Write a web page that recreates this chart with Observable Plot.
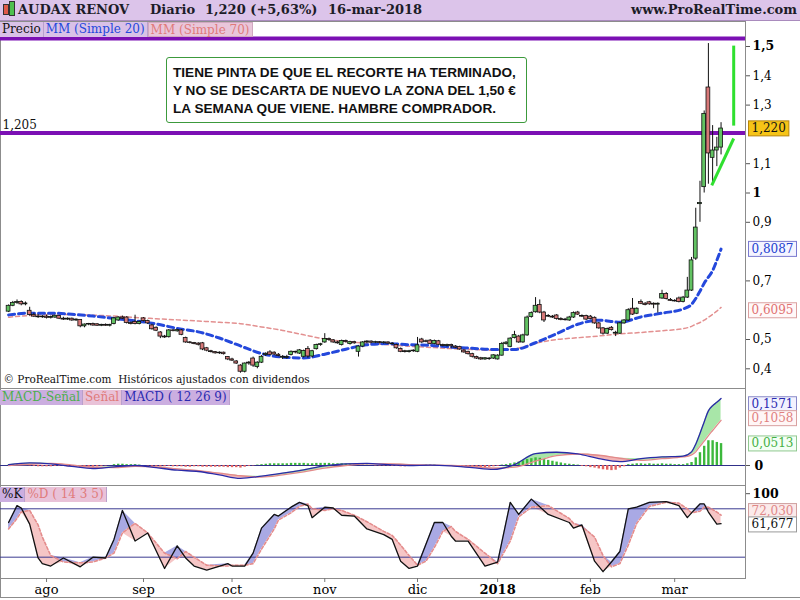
<!DOCTYPE html>
<html><head><meta charset="utf-8">
<script src="https://cdn.jsdelivr.net/npm/d3@7"></script>
<script src="https://cdn.jsdelivr.net/npm/@observablehq/plot@0.6"></script>
<style>
html,body{margin:0;padding:0;background:#fff;}
#chart{position:relative;width:800px;height:600px;overflow:hidden;background:#fff;font-family:"DejaVu Serif",serif;}
#chart .abs{position:absolute;}
#header{left:0;top:0;width:800px;height:20px;background:#dcc4ea;border-bottom:1px solid #a98bbd;color:#1c1c28;font-weight:bold;font-size:13px;}
#header span{position:absolute;top:2px;white-space:nowrap;line-height:16px;}
.legbar{display:flex;font-size:12px;line-height:15px;height:15px;white-space:nowrap;}
.legbar span{padding:0 2px;border-right:1px solid #b9a0cc;}
#note{left:166px;top:57px;width:361px;height:66px;border:1px solid #3c9a3c;border-radius:3px;background:#fff;font-family:"Liberation Sans",Arial,sans-serif;font-weight:bold;font-size:13.6px;line-height:18px;color:#111;padding:6px 0 0 6px;box-sizing:border-box;white-space:nowrap;}
</style></head>
<body>
<div id="chart">
  <div id="header" class="abs">
    <span style="left:3px;top:4px;width:4px;height:9px;background:#e05a4a;border:1px solid #333;"></span>
    <span style="left:9px;top:1px;width:4px;height:13px;background:#4ec04e;border:1px solid #333;"></span>
    <span style="left:18px">AUDAX RENOV</span>
    <span style="left:150px">Diario</span>
    <span id="hdrPrice" style="left:205px"></span>
    <span id="hdrDate" style="left:328px"></span>
    <span style="right:3px">www.ProRealTime.com</span>
  </div>
  <div id="pricePlot" class="abs" style="left:0;top:21px"></div>
  <div class="abs legbar" style="left:0;top:22px">
    <span style="background:#d9c1e7;color:#111">Precio</span>
    <span style="background:#d9c1e7;color:#2448dc">MM (Simple 20)</span>
    <span style="background:#e9c6da;color:#e07a7a;border:1px solid #d0a8c0">MM (Simple 70)</span>
  </div>
  <div id="note" class="abs">TIENE PINTA DE QUE EL RECORTE HA TERMINADO,<br>Y NO SE DESCARTA DE NUEVO LA ZONA DEL 1,50 €<br>LA SEMANA QUE VIENE. HAMBRE COMPRADOR.</div>
  <div id="macdPlot" class="abs" style="left:0;top:388px"></div>
  <div class="abs legbar" style="left:0;top:390px">
    <span style="background:#cbaee0;color:#4cae4c">MACD-Señal</span>
    <span style="background:#e9c2d8;color:#e07a7a">Señal</span>
    <span style="background:#cbaee0;color:#2a2ab0">MACD ( 12 26 9)</span>
  </div>
  <div id="stochPlot" class="abs" style="left:0;top:485px"></div>
  <div class="abs legbar" style="left:0;top:487px">
    <span style="background:#cbaee0;color:#111">%K</span>
    <span style="background:#e9c2d8;color:#e07a7a">%D ( 14 3 5)</span>
  </div>
  <div class="abs" style="left:0;top:578px;width:800px;height:20px;border-left:1px solid #8c8c8c;border-bottom:1px solid #8c8c8c;box-sizing:border-box;pointer-events:none"></div>
</div>
<script>
// ---------------- DATA ----------------
const monthNames = ["ene","feb","mar","abr","may","jun","jul","ago","sep","oct","nov","dic"];
const monthLabels = ["ago","sep","oct","nov","dic","2018","feb","mar"];
const holidays = ["2017-12-25","2017-12-26","2018-01-01"];

const open = [.595,.615,.625,.628,.620,.598,.584,.578,.576,.578,.574,.575,.580,.571,.568,.571,.565,.567,.545,.551,
.553,.552,.547,.550,.547,.553,.565,.575,.575,.556,.560,.553,.572,.563,.548,.540,.524,.510,.508,.531,
.528,.531,.505,.490,.488,.486,.487,.470,.460,.457,.453,.455,.440,.432,.425,.411,.390,.418,.435,.406,
.421,.447,.456,.455,.448,.438,.437,.447,.456,.452,.441,.468,.442,.467,.481,.490,.502,.497,.490,.481,
.495,.485,.491,.458,.476,.490,.493,.489,.491,.488,.490,.486,.481,.468,.460,.457,.460,.458,.500,.494,
.496,.485,.494,.481,.478,.481,.476,.474,.462,.458,.450,.440,.436,.432,.435,.435,.432,.445,.485,.475,
.505,.510,.490,.514,.577,.593,.618,.592,.580,.578,.582,.570,.568,.565,.575,.592,.580,.580,.578,.574,
.555,.538,.520,.540,.520,.520,.555,.565,.605,.588,.628,.622,.627,.622,.619,.640,.655,.635,.632,.640,
.628,.643,.667,.776,.962,1.020,1.360,1.120,1.145,1.155];
const high = [.618,.630,.635,.632,.628,.610,.590,.585,.582,.583,.580,.583,.582,.576,.574,.573,.570,.568,.553,.555,
.556,.554,.552,.553,.552,.575,.578,.580,.578,.560,.583,.563,.575,.566,.552,.543,.527,.514,.534,.534,
.535,.534,.508,.493,.490,.489,.490,.473,.463,.459,.458,.457,.442,.436,.428,.414,.420,.425,.440,.424,
.445,.455,.462,.458,.452,.445,.446,.461,.460,.466,.464,.476,.463,.484,.487,.520,.505,.500,.494,.498,
.498,.494,.494,.478,.493,.496,.495,.494,.493,.493,.492,.489,.484,.471,.463,.463,.465,.507,.504,.498,
.500,.498,.497,.484,.484,.484,.479,.477,.465,.460,.453,.443,.439,.438,.438,.448,.448,.490,.493,.506,
.528,.514,.518,.580,.594,.643,.635,.596,.585,.582,.585,.574,.572,.579,.594,.596,.584,.583,.582,.577,
.558,.541,.539,.544,.528,.558,.568,.605,.640,.608,.635,.626,.630,.625,.625,.668,.660,.640,.636,.645,
.647,.712,.780,.948,1.040,1.280,1.510,1.230,1.190,1.240];
const low = [.592,.612,.620,.615,.615,.580,.575,.572,.572,.570,.570,.572,.568,.565,.565,.562,.562,.540,.540,.547,
.545,.545,.544,.545,.543,.550,.562,.568,.553,.550,.550,.550,.560,.552,.532,.527,.503,.504,.505,.526,
.525,.513,.487,.485,.482,.478,.462,.458,.454,.450,.449,.447,.428,.425,.415,.385,.386,.412,.405,.400,
.418,.442,.445,.445,.441,.432,.433,.444,.451,.449,.437,.436,.438,.464,.477,.487,.494,.487,.484,.478,
.488,.481,.484,.440,.472,.486,.486,.486,.485,.484,.484,.481,.467,.455,.454,.454,.456,.455,.487,.489,
.482,.482,.479,.475,.474,.470,.469,.463,.453,.447,.437,.432,.429,.429,.429,.432,.430,.443,.481,.472,
.502,.487,.487,.511,.573,.590,.588,.558,.575,.572,.566,.564,.563,.562,.572,.582,.575,.565,.567,.552,
.535,.515,.517,.529,.510,.517,.552,.562,.582,.585,.619,.615,.617,.605,.590,.637,.635,.630,.628,.625,
.625,.640,.664,.770,.900,1.000,1.030,1.030,1.090,1.130];
const close = [.615,.625,.628,.620,.623,.584,.578,.576,.578,.574,.577,.581,.571,.568,.571,.565,.568,.545,.551,.553,
.548,.547,.550,.547,.550,.572,.575,.571,.556,.553,.553,.560,.563,.555,.535,.530,.510,.507,.531,.529,
.532,.516,.490,.488,.485,.482,.466,.462,.457,.453,.455,.450,.432,.428,.418,.390,.418,.421,.411,.421,
.441,.451,.448,.449,.444,.441,.440,.458,.458,.463,.461,.442,.460,.481,.484,.502,.498,.490,.487,.495,
.492,.491,.487,.476,.490,.493,.489,.491,.488,.490,.486,.484,.470,.458,.457,.460,.462,.480,.490,.492,
.485,.495,.482,.478,.481,.477,.472,.466,.456,.450,.441,.435,.432,.436,.433,.446,.445,.485,.489,.503,
.515,.490,.514,.575,.590,.615,.592,.565,.578,.575,.570,.567,.566,.575,.590,.585,.578,.568,.570,.555,
.538,.520,.536,.532,.523,.555,.565,.600,.585,.605,.622,.618,.620,.619,.622,.655,.638,.632,.630,.628,
.643,.667,.770,.882,.966,1.270,1.135,1.145,1.155,1.220];

// moving averages, MACD and signal read at these trading-day indices
const sampleIdx = [0,5,10,15,20,25,30,35,40,45,50,55,60,65,70,75,80,85,90,95,100,105,110,115,120,125,130,135,140,145,150,155,160,162,163,164,165,166,167,168,169];
const ma20 = [.584,.590,.590,.586,.580,.572,.564,.553,.538,.526,.505,.478,.452,.440,.437,.450,.467,.482,.486,.482,.480,.474,.470,.466,.466,.489,.520,.552,.566,.559,.577,.590,.604,.620,.640,.665,.692,.713,.735,.770,.8087];
const ma70 = [.576,.582,.585,.585,.583,.580,.575,.571,.567,.563,.559,.554,.543,.531,.516,.502,.493,.487,.482,.477,.473,.469,.466,.463,.468,.487,.500,.506,.512,.519,.524,.530,.537,.545,.552,.558,.566,.576,.586,.597,.6095];
const macd = [.002,.006,.004,-.002,-.007,-.003,0,-.005,-.011,-.014,-.022,-.030,-.025,-.018,-.010,-.001,.004,.005,.002,0,.001,-.001,-.005,-.009,.002,.028,.031,.027,.016,.009,.016,.020,.022,.032,.050,.075,.102,.128,.140,.148,.1571];
const signal = [0,.003,.005,.001,-.004,-.005,-.002,-.003,-.008,-.012,-.018,-.024,-.027,-.022,-.015,-.006,0,.004,.004,.002,.001,0,-.002,-.006,-.004,.010,.023,.027,.024,.017,.012,.016,.020,.025,.032,.045,.057,.070,.082,.094,.1058];
const hist = [.001,.002,.002,.002,.001, -.001,-.002,-.003,-.003,-.003, -.003,-.002,-.002,-.002,-.003, -.003,-.004,-.005,-.005,-.004,
-.004,-.003,-.002,-.001,0, .002,.003,.003,.002,.002, .002,.001,0,-.001,-.002, -.002,-.003,-.003,-.002,-.003,
-.003,-.003,-.004,-.004,-.003, -.003,-.004,-.004,-.004,-.004, -.004,-.004,-.005,-.005,-.005, -.006,-.004,-.002,-.001,.001,
.002,.003,.004,.004,.004, .004,.004,.005,.005,.005, .005,.004,.004,.005,.005, .005,.005,.004,.004,.004,
.003,.003,.002,.001,.001, .001,0,-.001,-.001,-.001, -.001,-.002,-.002,-.003,-.003, -.002,-.002,-.001,0,.001,
.001,.001,0,-.001,-.001, -.001,-.002,-.002,-.003,-.003, -.004,-.005,-.005,-.005,-.004, -.003,-.002,.001,.002,.004,
.006,.008,.011,.014,.016, .018,.017,.014,.012,.010, .008,.006,.004,.003,.002, .001,-.002,-.003,-.005,-.006,
-.008,-.010,-.011,-.012,-.011, -.006,-.003,.002,.003,.004, .004,.003,.004,.003,.003, .004,.003,.003,.002,.002,
.002,.004,.007,.018,.030, .045,.058,.058,.054,.0513];

// stochastic %K / %D read at these trading-day indices
const stochIdx = [0,2,3,5,7,8,10,13,17,20,23,25,27,30,33,37,40,42,44,47,52,53,56,58,60,63,64,67,69,71,72,75,77,79,82,85,89,91,93,95,97,99,101,103,105,106,109,113,116,119,121,124,128,133,134,136,139,141,143,145,147,149,152,156,159,161,162,164,165,166,168,169];
const stochK = [63,84,81,61,19,12,9,19,8,20,19,42,78,40,50,6,34,19,9,4,12,9,9,25,56,73,71,82,88,84,69,82,81,72,71,55,48,42,15,6,9,36,63,63,46,40,40,9,14,88,73,92,73,63,56,60,15,2,14,27,80,82,88,89,84,69,75,86,86,76,61,61.677];
const stochD = [55,68,76,78,60,45,22,14,13,14,19,25,50,62,50,25,18,27,20,10,9,10,10,12,30,55,66,75,83,86,80,78,80,78,72,64,52,47,35,22,10,15,32,52,58,52,42,25,12,40,70,82,84,68,62,58,45,22,8,12,35,62,83,88,87,80,75,77,82,82,76,72.03];

// horizontal levels & drawn annotation lines (price units / day index)
const priceLevels = [1.527, 1.205];
const greenLines = [{i1:172, p1:1.503, i2:172, p2:1.23}, {i1:166.8, p1:1.026, i2:172, p2:1.186}];
const priceTicks = [0.4,0.5,0.7,0.9,1.1,1.3,1.4];   // 0,6 / 0,8 / 1,2 are hidden behind the value boxes
const priceTicksBold = [1, 1.5];
const stochLevels = [80, 20];

// ---------------- BUILD ----------------
const dayKey = d3.timeFormat("%Y-%m-%d");
const days = [];
for (let d = new Date(2017,6,19); d <= new Date(2018,2,16); d.setDate(d.getDate()+1)) {
  const wd = d.getDay();
  if (wd === 0 || wd === 6 || holidays.includes(dayKey(d))) continue;
  days.push(new Date(d));
}
const N = close.length;
const bars = close.map((c,i)=>({i, o:open[i], h:high[i], l:low[i], c}));
const maData = sampleIdx.map((i,k)=>({i, a:ma20[k], b:ma70[k], m:macd[k], s:signal[k]}));
const histData = hist.map((h,i)=>({i,h}));
const stData = stochIdx.map((i,k)=>({i, k:stochK[k], d:stochD[k]}));
const monthStarts = days.map((d,i)=>i).filter(i=>i>0 && days[i].getMonth()!==days[i-1].getMonth());
const labelOf = new Map(monthStarts.map((m,k)=>[m, monthLabels[k]]));
const c = v => String(v).replace(".", ",");
const fx = (v,n) => v.toFixed(n).replace(".", ",");

const last = days[N-1];
document.getElementById("hdrPrice").textContent = `${fx(close[N-1],3)} (+${fx((close[N-1]/close[N-2]-1)*100,2)}%)`;
document.getElementById("hdrDate").textContent = `${last.getDate()}-${monthNames[last.getMonth()]}-${last.getFullYear()}`;

const W = 800, MR = 55;
const xScale = {domain:[-1.92, 174.8], axis:null};
const style = {fontFamily:"DejaVu Serif, serif", fontSize:"12px", background:"transparent", color:"#000", overflow:"visible"};
const gray = "#8c8c8c";

// draw a framed background box behind the value labels at the right edge
function addBoxes(svg, specs){
  const texts = Array.from(svg.querySelectorAll("g[aria-label='text'] text"));
  for (const s of specs) {
    for (const t of texts) {
      if (t.textContent !== s.txt) continue;
      const b = t.getBBox();
      const r = document.createElementNS("http://www.w3.org/2000/svg", "rect");
      r.setAttribute("x", b.x-3); r.setAttribute("y", b.y-0.5);
      r.setAttribute("width", b.width+6); r.setAttribute("height", b.height+1);
      r.setAttribute("fill", s.fill); r.setAttribute("stroke", s.stroke);
      if (t.getAttribute("transform")) r.setAttribute("transform", t.getAttribute("transform"));
      t.parentNode.insertBefore(r, t);
    }
  }
}
function boxLabel(v, txt, color, dy=0){
  return Plot.text([v], {y:d=>d, text:()=>txt, frameAnchor:"right", textAnchor:"start", dx:6, dy, fill:color});
}

// ---- price panel ----
const lastClose = close[N-1], lastMa20 = ma20[ma20.length-1], lastMa70 = ma70[ma70.length-1];
const price = Plot.plot({
  width:W, height:367, marginLeft:0, marginRight:MR, marginTop:0, marginBottom:0,
  x:xScale, y:{domain:[0.3328, 1.5853], axis:null}, style,
  marks:[
    Plot.frame({stroke:gray}),
    Plot.ruleY(priceLevels, {stroke:"#7b10b4", strokeWidth:4}),
    Plot.line(maData, {x:"i", y:"b", stroke:"#e39090", strokeWidth:1.5, strokeDasharray:"4,3", curve:"monotone-x"}),
    Plot.line(maData, {x:"i", y:"a", stroke:"#2448dc", strokeWidth:3, strokeDasharray:"6,4", curve:"monotone-x"}),
    Plot.ruleX(bars, {x:"i", y1:"l", y2:"h", stroke:"#111", strokeWidth:1}),
    Plot.rect(bars, {x1:d=>d.i-0.45, x2:d=>d.i+0.45, y1:"o", y2:"c", fill:d=>d.c>=d.o?"#62c262":"#d77878", stroke:"#111", strokeWidth:0.8}),
    Plot.link(greenLines, {x1:"i1", y1:"p1", x2:"i2", y2:"p2", stroke:"#2fe02f", strokeWidth:3}),
    Plot.text([priceLevels[1]], {y:d=>d, text:d=>fx(d,3), frameAnchor:"left", textAnchor:"start", dx:2, dy:-8, fill:"#111"}),
    Plot.text(["© ProRealTime.com  Históricos ajustados con dividendos"], {text:d=>d, frameAnchor:"bottom-left", textAnchor:"start", dx:3, dy:-6, fontSize:10.5, fill:"#111"}),
    Plot.axisY(priceTicks, {anchor:"right", label:null, tickSize:4, tickPadding:3, tickFormat:c, fontSize:12, stroke:"#555"}),
    Plot.axisY(priceTicksBold, {anchor:"right", label:null, tickSize:4, tickPadding:3, tickFormat:c, fontSize:12.5, fontWeight:"bold", stroke:"#555"}),
    boxLabel(lastClose, fx(lastClose,3), "#111"),
    boxLabel(lastMa20, fx(lastMa20,4), "#2040d0"),
    boxLabel(lastMa70, fx(lastMa70,4), "#e07070", 3)
  ]
});
document.getElementById("pricePlot").append(price);
addBoxes(price, [
  {txt:fx(lastClose,3), fill:"#f6c417", stroke:"#b8860b"},
  {txt:fx(lastMa20,4), fill:"#f4f4ff", stroke:"#7a7ad0"},
  {txt:fx(lastMa70,4), fill:"#fff8f8", stroke:"#dba0a0"}
]);

// ---- MACD panel ----
const lastMacd = macd[macd.length-1], lastSig = signal[signal.length-1], lastHist = hist[N-1];
const mPlot = Plot.plot({
  width:W, height:97, marginLeft:0, marginRight:MR, marginTop:0, marginBottom:0,
  x:xScale, y:{domain:[-0.0468, 0.1803], axis:null}, style,
  marks:[
    Plot.frame({stroke:gray}),
    Plot.areaY(maData, {x:"i", y1:"s", y2:d=>Math.max(d.m,d.s), fill:"#a8e6a8", curve:"monotone-x"}),
    Plot.areaY(maData, {x:"i", y1:"s", y2:d=>Math.min(d.m,d.s), fill:"#f2b4b4", curve:"monotone-x"}),
    Plot.ruleY([0], {stroke:"#303088", strokeWidth:1}),
    Plot.ruleX(histData, {x:"i", y1:0, y2:"h", stroke:d=>d.h>=0?"#3cb83c":"#e06060", strokeWidth:2.4}),
    Plot.line(maData, {x:"i", y:"s", stroke:"#e28a8a", strokeWidth:1.3, curve:"monotone-x"}),
    Plot.line(maData, {x:"i", y:"m", stroke:"#2a2aa8", strokeWidth:1.3, curve:"monotone-x"}),
    Plot.axisY([0], {anchor:"right", label:null, tickSize:4, tickPadding:5, tickFormat:c, fontSize:12.5, fontWeight:"bold", stroke:"#555"}),
    boxLabel(lastMacd, fx(lastMacd,4), "#2a2ab0", 6),
    boxLabel(lastSig, fx(lastSig,4), "#e08080", -2),
    boxLabel(lastHist, fx(lastHist,4), "#44b044")
  ]
});
document.getElementById("macdPlot").append(mPlot);
addBoxes(mPlot, [
  {txt:fx(lastMacd,4), fill:"#f2f2ff", stroke:"#8888c8"},
  {txt:fx(lastSig,4), fill:"#fff6f6", stroke:"#d8a0a0"},
  {txt:fx(lastHist,4), fill:"#f4fff4", stroke:"#90c890"}
]);

// ---- Stochastic panel ----
const lastD = stochD[stochD.length-1], lastK = stochK[stochK.length-1];
const sPlot = Plot.plot({
  width:W, height:115, marginLeft:0, marginRight:MR, marginTop:0, marginBottom:22,
  x:xScale, y:{domain:[-6.45, 108.9], axis:null}, style,
  marks:[
    Plot.frame({stroke:gray}),
    Plot.areaY(stData, {x:"i", y1:"d", y2:d=>Math.max(d.k,d.d), fill:"#a9a9e4"}),
    Plot.areaY(stData, {x:"i", y1:"d", y2:d=>Math.min(d.k,d.d), fill:"#f6c6c6"}),
    Plot.ruleY(stochLevels, {stroke:"#3a3a90", strokeWidth:1}),
    Plot.line(stData, {x:"i", y:"d", stroke:"#e48c8c", strokeWidth:1.6, strokeDasharray:"3,2"}),
    Plot.line(stData, {x:"i", y:"k", stroke:"#111", strokeWidth:1.3}),
    Plot.axisY([100], {anchor:"right", label:null, tickSize:4, tickPadding:3, fontSize:12.5, fontWeight:"bold", stroke:"#555", dy:1}),
    boxLabel(lastD, fx(lastD,3), "#e08888", -4),
    boxLabel(lastK, fx(lastK,3), "#111", 1),
    Plot.axisX(monthStarts.filter(m=>labelOf.get(m)!=="2018"), {anchor:"bottom", label:null, tickSize:4, tickPadding:2, tickFormat:d=>labelOf.get(d), fontSize:13, stroke:"#777"}),
    Plot.axisX(monthStarts.filter(m=>labelOf.get(m)==="2018"), {anchor:"bottom", label:null, tickSize:4, tickPadding:2, tickFormat:d=>labelOf.get(d), fontSize:13, fontWeight:"bold", stroke:"#777"})
  ]
});
document.getElementById("stochPlot").append(sPlot);
addBoxes(sPlot, [
  {txt:fx(lastD,3), fill:"#fbeaea", stroke:"#d0a0a0"},
  {txt:fx(lastK,3), fill:"#ffffff", stroke:"#999999"}
]);
</script>
</body></html>
